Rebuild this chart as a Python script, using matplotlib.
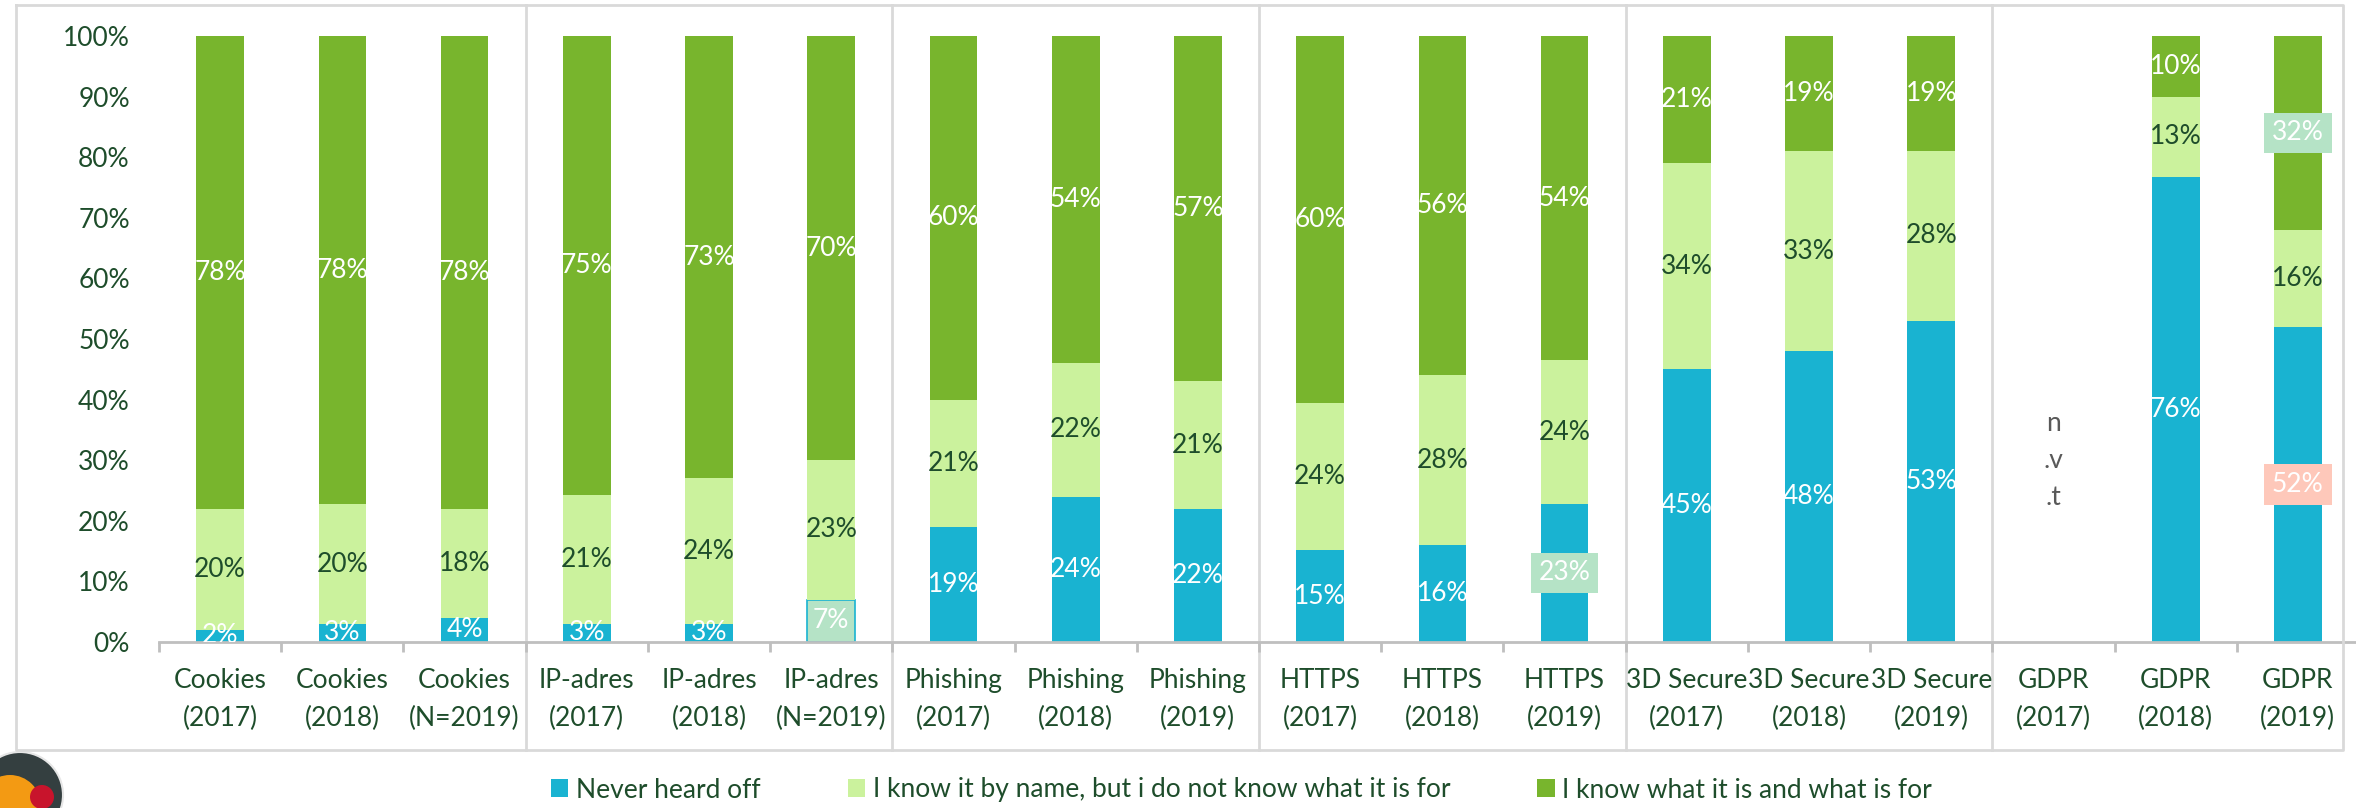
import numpy as np
import matplotlib
matplotlib.use('Agg')
import matplotlib.pyplot as plt
import matplotlib.transforms as mtransforms
from matplotlib.lines import Line2D
from matplotlib.patches import Circle

plt.rcParams['font.family'] = ['Lato', 'DejaVu Sans']

# data (percent labels as shown on the chart; GDPR 2017 = n.v.t.)
categories = ['Cookies\n(2017)', 'Cookies\n(2018)', 'Cookies\n(N=2019)',
              'IP-adres\n(2017)', 'IP-adres\n(2018)', 'IP-adres\n(N=2019)',
              'Phishing\n(2017)', 'Phishing\n(2018)', 'Phishing\n(2019)',
              'HTTPS\n(2017)', 'HTTPS\n(2018)', 'HTTPS\n(2019)',
              '3D Secure\n(2017)', '3D Secure\n(2018)', '3D Secure\n(2019)',
              'GDPR\n(2017)', 'GDPR\n(2018)', 'GDPR\n(2019)']
never_heard = [2, 3, 4, 3, 3, 7, 19, 24, 22, 15, 16, 23, 45, 48, 53, np.nan, 76, 52]
by_name = [20, 20, 18, 21, 24, 23, 21, 22, 21, 24, 28, 24, 34, 33, 28, np.nan, 13, 16]
knows = [78, 78, 78, 75, 73, 70, 60, 54, 57, 60, 56, 54, 21, 19, 19, np.nan, 10, 32]
series_names = ['Never heard off',
                'I know it by name, but i do not know what it is for',
                'I know what it is and what is for']
yticks = list(range(0, 101, 10))

colors = ['#19b3d1', '#cbf29d', '#78b52d']
text_colors = ['white', '#1e4d2b', 'white']
dark = '#1e4d2b'
frame_gray = '#d9d9d9'
axis_gray = '#bfbfbf'
FS = 19
# labels with a coloured box behind them: (category index, series index)
boxed = {(11, 0): '#b5e3c6', (17, 0): '#fec8ba', (17, 2): '#b5e3c6'}

W, H = 2356, 808
fig = plt.figure(figsize=(W / 100, H / 100), dpi=100)
ax = fig.add_axes([159 / W, 1 - 642 / H, 2200 / W, 606 / H])

def fy(py):
    return 1 - py / H

x = np.arange(len(categories))
vals = np.array([never_heard, by_name, knows], dtype=float)
with np.errstate(invalid='ignore', divide='ignore'):
    shares = vals / np.nansum(vals, axis=0) * 100  # 100% stacked

bottom = np.zeros(len(x))
handles = []
for i in range(3):
    h = np.nan_to_num(shares[i])
    bars = ax.bar(x, h, 0.39, bottom=bottom, color=colors[i], linewidth=0,
                  label=series_names[i])
    handles.append(bars)
    for j in x:
        if np.isnan(vals[i, j]):
            continue
        kw = {}
        if (j, i) in boxed:
            kw['bbox'] = dict(boxstyle='square,pad=0.3', fc=boxed[(j, i)], ec='none')
        tc = 'white' if (j, i) in boxed else text_colors[i]
        ax.text(j, bottom[j] + h[j] / 2, f'{int(vals[i, j])}%', ha='center', va='center',
                color=tc, fontsize=FS, clip_on=True, **kw)
    bottom += h

# IP-adres (N=2019) first segment is highlighted
handles[0][5].set_facecolor('#b5e3c6')
handles[0][5].set_edgecolor(colors[0])
handles[0][5].set_linewidth(1.2)

ax.text(15, 30, 'n\n.v\n.t', ha='center', va='center', color='#595959',
        fontsize=FS, linespacing=1.6)

ax.set_xlim(-0.5, len(x) - 0.5)
ax.set_ylim(0, 100)
ax.set_yticks(yticks)
ax.set_yticklabels([f'{v}%' for v in yticks])
ax.set_xticks(x)
ax.set_xticklabels(categories, linespacing=1.6)
ax.set_xticks(np.arange(-0.5, len(x)), minor=True)
ax.tick_params(axis='x', which='major', length=0, pad=19, labelsize=FS, labelcolor=dark)
ax.tick_params(axis='x', which='minor', length=7, width=2, color=axis_gray, direction='out')
ax.tick_params(axis='y', length=0, pad=21, labelsize=FS, labelcolor=dark)
for s in ['top', 'right', 'left']:
    ax.spines[s].set_visible(False)
ax.spines['bottom'].set_color(axis_gray)
ax.spines['bottom'].set_linewidth(2)
ax.patch.set_alpha(0)

# outer frame and group separators
fig.add_artist(Line2D([16 / W, 2343 / W, 2343 / W, 16 / W, 16 / W],
                      [fy(5), fy(5), fy(750), fy(750), fy(5)], color=frame_gray, lw=2))
trans = mtransforms.blended_transform_factory(ax.transData, fig.transFigure)
for b in [2.5, 5.5, 8.5, 11.5, 14.5]:
    ax.add_line(Line2D([b, b], [fy(5), fy(750)], transform=trans, color=frame_gray,
                       lw=2, clip_on=False, zorder=0))

fig.legend(handles=handles, loc='center left', bbox_to_anchor=(551 / W, fy(790)), ncol=3,
           frameon=False, handlelength=0.65, handleheight=0.65, handletextpad=0.3,
           columnspacing=3.3, borderpad=0, borderaxespad=0, fontsize=FS, labelcolor=dark)

# logo in the corner
tr = fig.dpi_scale_trans
fig.add_artist(Circle((0.20, 0.13), 0.43, transform=tr, fc='#343f40', ec='#e6e6e6', lw=1.5))
fig.add_artist(Circle((0.10, 0.02), 0.31, transform=tr, fc='#f39a13', ec='none'))
fig.add_artist(Circle((0.42, 0.11), 0.12, transform=tr, fc='#c8142c', ec='none'))

fig.savefig('out.png', dpi=100)
